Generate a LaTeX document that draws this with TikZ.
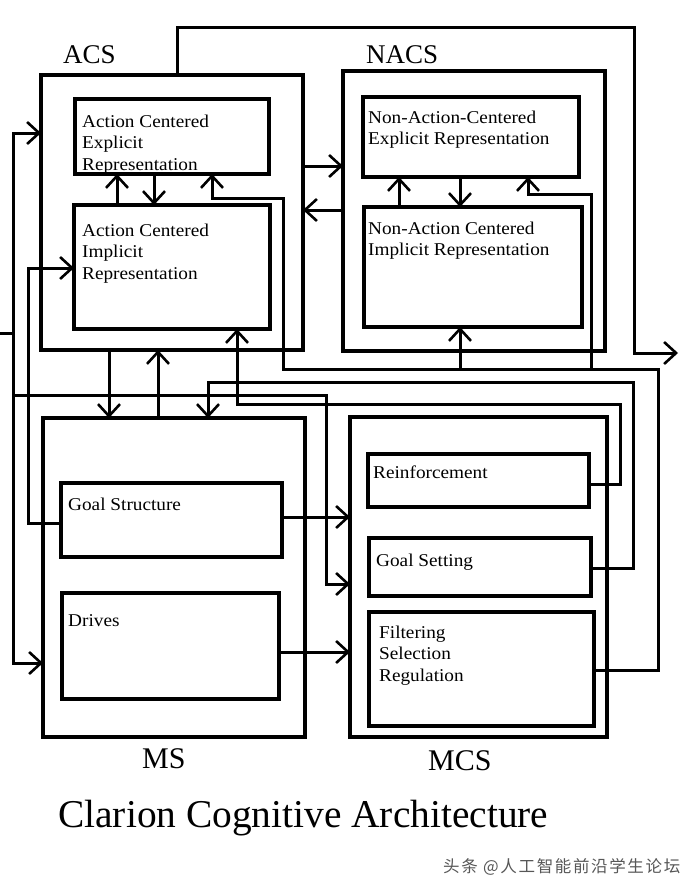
\documentclass[tikz,border=0pt]{standalone}
\usepackage{fontspec}
\setmainfont{Liberation Serif}
\newfontfamily\boxfont[FakeStretch=1.07]{Liberation Serif}
\newfontfamily\wmfont[LetterSpace=10]{Noto Sans CJK SC}
\usetikzlibrary{arrows.meta}
\begin{document}
\begin{tikzpicture}[x=1pt,y=-1pt,
  box/.style={draw, line width=3.5pt, inner sep=0pt, outer sep=0pt, anchor=north west},
  txt/.style={inner sep=0pt, anchor=base west, font=\boxfont\fontsize{18}{21.8}\selectfont},
  lbl/.style={inner sep=0pt, anchor=base west, font=\fontsize{27}{30}\selectfont},
  blbl/.style={inner sep=0pt, anchor=base west, font=\fontsize{30}{33}\selectfont},
  conn/.style={line width=3pt},
  arr/.style={conn, -{Straight Barb[length=12pt, width=22pt, line width=2.6pt]}}]
\useasboundingbox[fill=white] (0,0) rectangle (691,894);

% boxes
\node[box, minimum width=262pt, minimum height=275pt] (ACS) at (41,75) {};
\node[box, minimum width=194pt, minimum height=75pt] (ACE) at (75,99) {};
\node[box, minimum width=196pt, minimum height=124pt] (ACI) at (74,205) {};
\node[box, minimum width=262pt, minimum height=280pt] (NACS) at (343,71) {};
\node[box, minimum width=216pt, minimum height=80pt] (NACE) at (363,97) {};
\node[box, minimum width=218pt, minimum height=120pt] (NACI) at (364,207) {};
\node[box, minimum width=262pt, minimum height=319pt] (MS) at (43,418) {};
\node[box, minimum width=221pt, minimum height=74pt] (GS) at (61,483) {};
\node[box, minimum width=217pt, minimum height=106pt] (DR) at (62,593) {};
\node[box, minimum width=257pt, minimum height=320pt] (MCS) at (350,417) {};
\node[box, minimum width=221pt, minimum height=53pt] (RE) at (368,454) {};
\node[box, minimum width=222pt, minimum height=58pt] (GSet) at (369,538) {};
\node[box, minimum width=225pt, minimum height=114pt] (FSR) at (369,612) {};

% texts
\node[txt] (aceT) at (82,127) {\vtop{\hbox{Action Centered}\hbox{Explicit}\hbox{Representation}}};
\node[txt] (aciT) at (82,236) {\vtop{\hbox{Action Centered}\hbox{Implicit}\hbox{Representation}}};
\node[txt] (naceT) at (368,123) {\vtop{\hbox{Non-Action-Centered}\hbox{Explicit Representation}}};
\node[txt] (naciT) at (368,234) {\vtop{\hbox{Non-Action Centered}\hbox{Implicit Representation}}};
\node[txt] (gsT) at (68,510) {Goal Structure};
\node[txt] (drT) at (68,626) {Drives};
\node[txt] (reT) at (373,478) {Reinforcement};
\node[txt] (gsetT) at (376,566) {Goal Setting};
\node[txt] (fsrT) at (379,638) {\vtop{\hbox{Filtering}\hbox{Selection}\hbox{Regulation}}};

\node[lbl] (acsL) at (63,63) {ACS};
\node[lbl] (nacsL) at (366,63) {NACS};
\node[blbl] (msL) at (142,768) {MS};
\node[blbl] (mcsL) at (428,770) {MCS};
\node[inner sep=0pt, anchor=base west, font=\fontsize{39.4}{44}\selectfont] (title) at (58,827) {Clarion Cognitive Architecture};
\node[inner sep=0pt, anchor=base west, text=black!66, font=\wmfont\fontsize{16.5}{18}\selectfont] (wm) at (443,872) {头条 @人工智能前沿学生论坛};

% free ends
\coordinate (in) at (0,333);
\coordinate (out) at (678,353);

% top loop to output
\draw[arr] (177,0 |- ACS.north) |- (634,27) |- (out);

% left input
\draw[conn] (in) -- (13,333);
\draw[arr] (13,333) |- (ACS.west |- 0,133);
\draw[arr] (13,333) |- (MS.west |- 0,663);
\draw[arr] (13,395) -| (326,584) -- (MCS.west |- 0,584);

% goal structure -> ACI
\draw[arr] (GS.west |- 0,523) -| (28,268) -- (ACI.west |- 0,268);

% ACE <-> ACI
\draw[arr] (117,0 |- ACI.north) -- (117,0 |- ACE.south);
\draw[arr] (154,0 |- ACE.south) -- (154,0 |- ACI.north);
% NACE <-> NACI
\draw[arr] (399,0 |- NACI.north) -- (399,0 |- NACE.south);
\draw[arr] (460,0 |- NACE.south) -- (460,0 |- NACI.north);

% ACS <-> NACS
\draw[arr] (ACS.east |- 0,166) -- (NACS.west |- 0,166);
\draw[arr] (NACS.west |- 0,210) -- (ACS.east |- 0,210);

% ACS <-> MS
\draw[arr] (109,0 |- ACS.south) -- (109,0 |- MS.north);
\draw[arr] (158,0 |- MS.north) -- (158,0 |- ACS.south);

% Filtering -> ACE, NACI, NACE
\draw[arr] (FSR.east |- 0,670) -| (658,369) -| (283,198) -| (212,0 |- ACE.south);
\draw[arr] (460,369) -- (460,0 |- NACI.south);
\draw[arr] (591,369) |- (528,194) -- (528,0 |- NACE.south);

% Goal Setting -> MS
\draw[arr] (GSet.east |- 0,568) -| (633,382) -| (208,0 |- MS.north);

% Reinforcement -> ACI
\draw[arr] (RE.east |- 0,484) -| (620,404) -| (237,0 |- ACI.south);

% MS -> MCS
\draw[arr] (GS.east |- 0,517) -- (MCS.west |- 0,517);
\draw[arr] (DR.east |- 0,652) -- (MCS.west |- 0,652);
\end{tikzpicture}
\end{document}
